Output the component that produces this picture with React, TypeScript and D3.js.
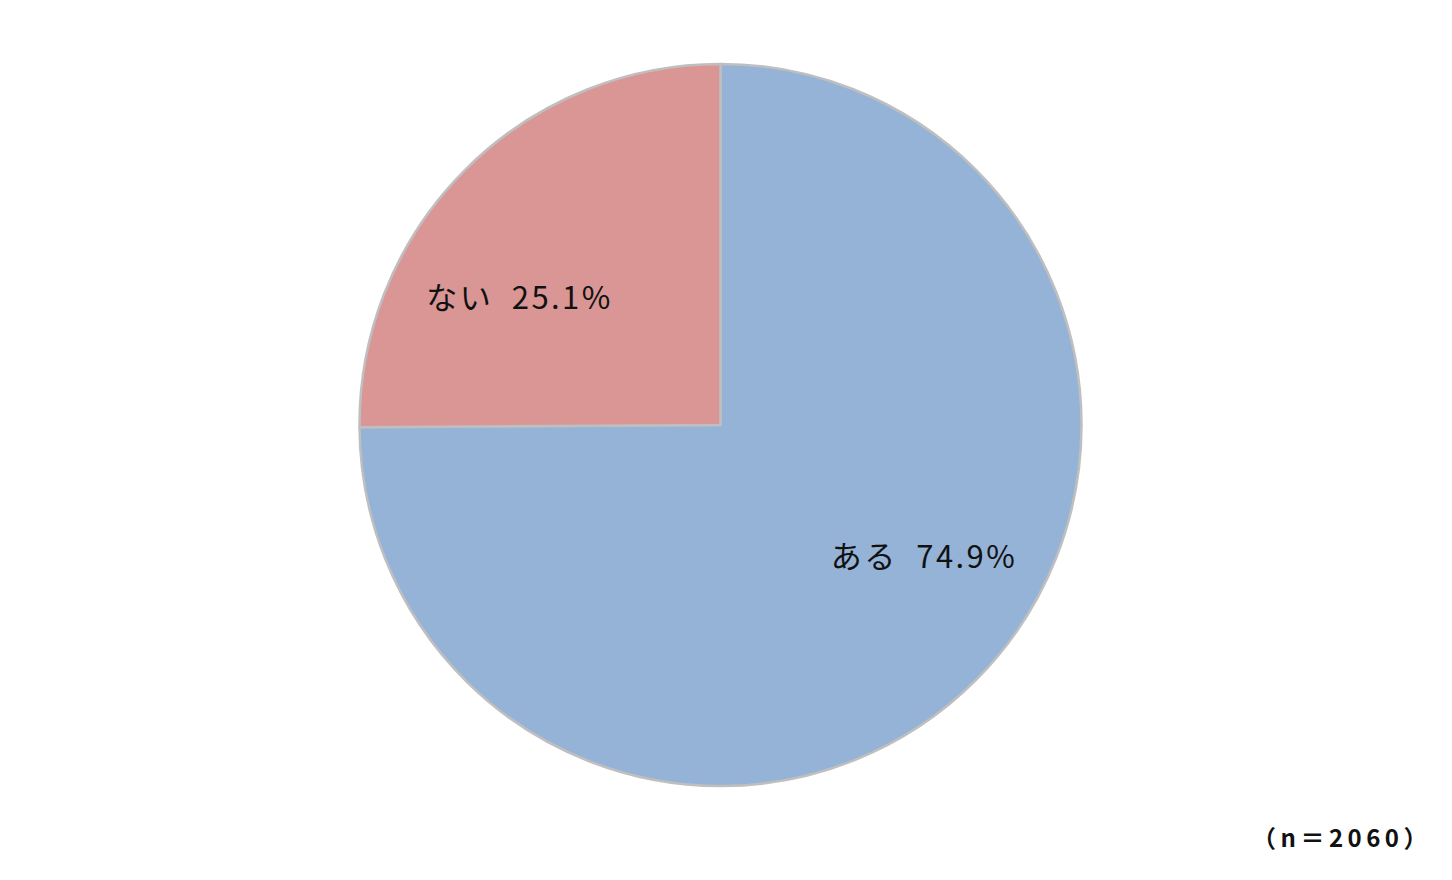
import React from "react";
import * as d3 from "d3";

const categories = ["ある", "ない"];
const values = [74.9, 25.1];
const colors = ["#95b3d7", "#d99694"];
const sampleNote = "（n＝2060）";

const W = 1452;
const H = 880;
const cx = 720.5;
const cy = 425;
const R = 361;

export default function App() {
  const pie = d3.pie<number>().sort(null).value((d) => d)(values);
  const arc = d3.arc<d3.PieArcDatum<number>>().innerRadius(0).outerRadius(R);
  const fmt = d3.format(".1f");
  return (
    <svg width={W} height={H} style={{ position: "absolute", left: 0, top: 0, background: "#fff" }}
      fontFamily="'Noto Sans CJK JP', sans-serif">
      <g transform={`translate(${cx},${cy})`}>
        {pie.map((p, i) => (
          <path key={i} d={arc(p) || ""} fill={colors[i]} stroke="#bfbfbf" strokeWidth={2.5} strokeLinejoin="round" />
        ))}
        {pie.map((p, i) => {
          const mid = (p.startAngle + p.endAngle) / 2;
          const x = Math.sin(mid) * R * 0.79;
          const y = -Math.cos(mid) * R * 0.51;
          return (
            <text key={"t" + i} x={x} y={y} textAnchor="middle" dominantBaseline="central"
              fontSize={31} fill="#111" textLength={184} lengthAdjust="spacing">
              {categories[i]}{"\u00a0\u00a0"}{fmt(values[i])}%
            </text>
          );
        })}
      </g>
      <text x={1252} y={836} dominantBaseline="central" fontSize={24}
        fontWeight="bold" fill="#111" letterSpacing={4.5}>{sampleNote}</text>
    </svg>
  );
}
